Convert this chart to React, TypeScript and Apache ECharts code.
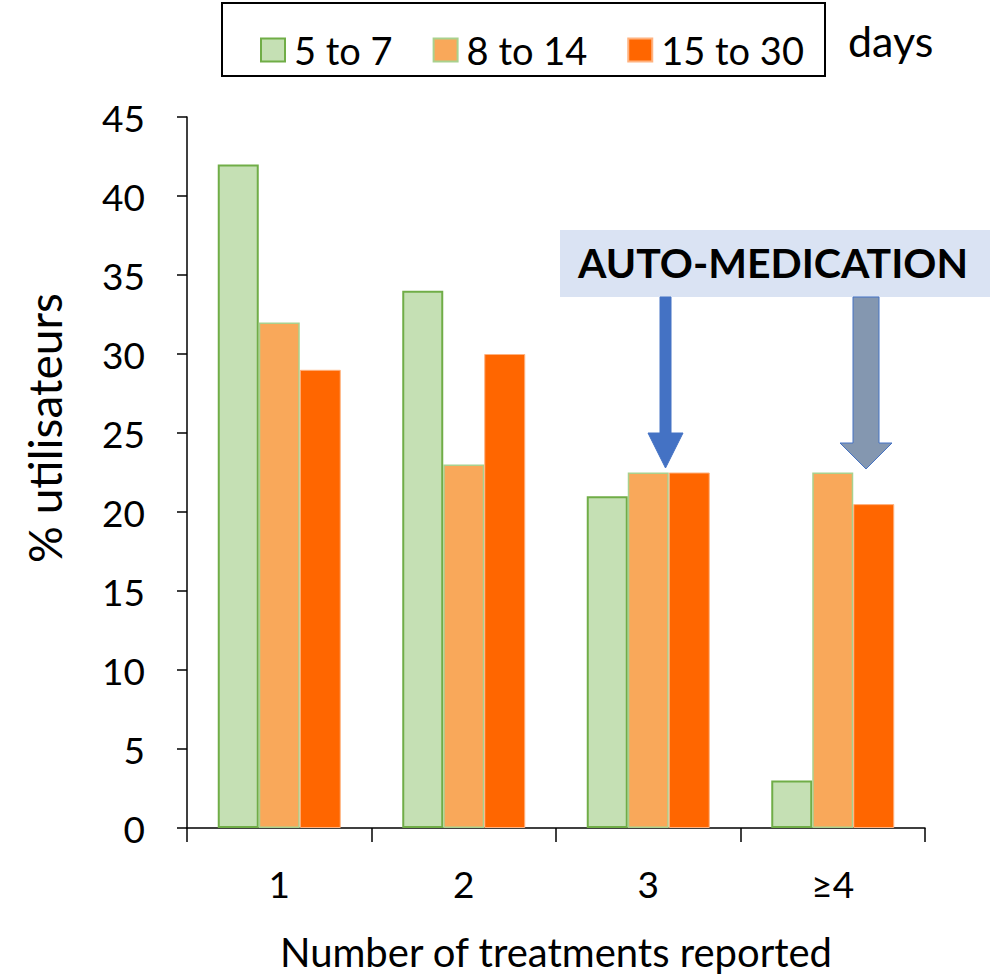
import React, { useEffect, useRef } from "react";
import * as echarts from "echarts";

const categories = ["1", "2", "3", "≥4"];
const seriesNames = ["5 to 7", "8 to 14", "15 to 30"];
const days5to7 = [42, 34, 21, 3];
const days8to14 = [32, 23, 22.5, 22.5];
const days15to30 = [29, 30, 22.5, 20.5];
const yTicks = { min: 0, max: 45, interval: 5 };

const FONT = "Lato";

export default function App() {
  const ref = useRef<HTMLDivElement>(null);
  useEffect(() => {
    if (!ref.current) return;
    document.body.style.margin = "0";
    const chart = echarts.init(ref.current, null, { renderer: "svg" });
    chart.setOption({
      animation: false,
      backgroundColor: "#ffffff",
      textStyle: { fontFamily: FONT },
      grid: { left: 187, top: 117, right: 75, bottom: 148, containLabel: false },
      legend: {
        left: 255,
        top: 26,
        itemWidth: 24,
        itemHeight: 23,
        itemGap: 40,
        icon: "rect",
        textStyle: { fontFamily: FONT, fontSize: 38, color: "#000", padding: [0, 0, 0, 4] },
        data: seriesNames,
      },
      xAxis: {
        type: "category",
        data: categories,
        axisLine: { lineStyle: { color: "#000", width: 1.5 } },
        axisTick: { show: true, length: 14, lineStyle: { color: "#000", width: 1.5 } },
        axisLabel: { fontFamily: FONT, fontSize: 37, color: "#000", margin: 37 },
        name: "Number of treatments reported",
        nameLocation: "middle",
        nameGap: 104,
        nameTextStyle: { fontFamily: FONT, fontSize: 40, color: "#000" },
      },
      yAxis: {
        type: "value",
        min: yTicks.min,
        max: yTicks.max,
        interval: yTicks.interval,
        splitLine: { show: false },
        axisLine: { show: true, lineStyle: { color: "#000", width: 1.5 } },
        axisTick: { show: true, length: 10, lineStyle: { color: "#000", width: 1.5 } },
        axisLabel: { fontFamily: FONT, fontSize: 37, color: "#000", margin: 42 },
      },
      series: [
        {
          name: seriesNames[0],
          type: "bar",
          data: days5to7,
          barWidth: 41,
          barGap: "0%",
          itemStyle: { color: "#C5E0B4", borderColor: "#70AD47", borderWidth: 2 },
        },
        {
          name: seriesNames[1],
          type: "bar",
          data: days8to14,
          barWidth: 41,
          barGap: "0%",
          itemStyle: { color: "#F9A85A", borderColor: "#A9D18E", borderWidth: 1.5 },
        },
        {
          name: seriesNames[2],
          type: "bar",
          data: days15to30,
          barWidth: 41,
          barGap: "0%",
          itemStyle: { color: "#FF6600", borderColor: "#FFB27F", borderWidth: 1 },
        },
      ],
      graphic: [
        {
          type: "text",
          x: 44,
          y: 428,
          rotation: Math.PI / 2,
          style: {
            text: "% utilisateurs",
            font: `46px ${FONT}`,
            fill: "#000",
            align: "center",
            verticalAlign: "middle",
          },
        },
        {
          type: "rect",
          shape: { x: 222, y: 3, width: 603, height: 73 },
          style: { fill: "none", stroke: "#000", lineWidth: 2 },
        },
        {
          type: "text",
          x: 848,
          y: 40,
          style: { text: "days", font: `43px ${FONT}`, fill: "#000", verticalAlign: "middle" },
        },
        {
          type: "rect",
          shape: { x: 560, y: 230, width: 430, height: 67 },
          style: { fill: "#DAE3F3" },
        },
        {
          type: "text",
          x: 773,
          y: 262,
          style: {
            text: "AUTO-MEDICATION",
            font: `bold 41px ${FONT}`,
            fill: "#000",
            align: "center",
            verticalAlign: "middle",
          },
        },
        {
          type: "polygon",
          shape: {
            points: [
              [660, 297], [671, 297], [671, 433], [683, 433], [665.5, 468], [648, 433], [660, 433],
            ],
          },
          style: { fill: "#4472C4", stroke: "#4472C4", lineWidth: 1 },
        },
        {
          type: "polygon",
          shape: {
            points: [
              [853, 297], [879, 297], [879, 443], [892, 443], [866, 469], [840, 443], [853, 443],
            ],
          },
          style: { fill: "#8497B0", stroke: "#4472C4", lineWidth: 1 },
        },
      ],
    });
    return () => chart.dispose();
  }, []);
  return (
    <div
      ref={ref}
      style={{ position: "absolute", left: 0, top: 0, width: 1000, height: 977 }}
    />
  );
}
